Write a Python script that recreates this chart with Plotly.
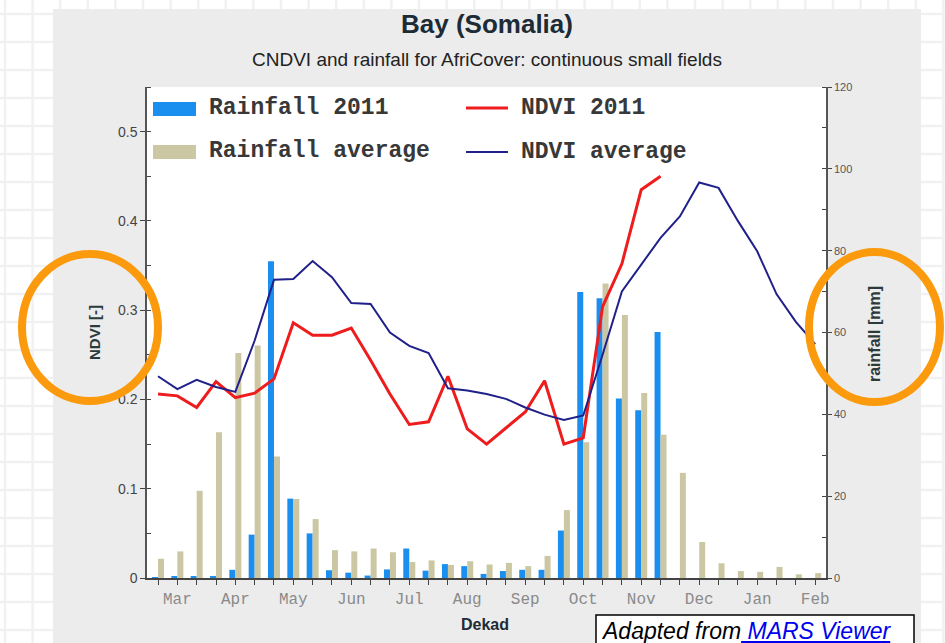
import plotly.graph_objects as go

# ---- data -------------------------------------------------------------
months = ["Mar", "Apr", "May", "Jun", "Jul", "Aug", "Sep", "Oct", "Nov",
          "Dec", "Jan", "Feb"]
# dekads shown on the axis: Mar 1 ... Feb 2
dekads = [f"{m} {d}" for m in months for d in (1, 2, 3)][:35]
month_ticks = [m if d == 2 else "" for m in months for d in (1, 2, 3)][:35]

rain_2011 = [0.2, 0.3, 0.3, 0.5, 2.0, 10.6, 77.4, 19.4, 10.9, 1.9, 1.3, 0.6,
             2.1, 7.2, 1.8, 3.4, 2.9, 1.0, 1.7, 2.0, 2.0, 11.6, 69.9, 68.4,
             43.9, 41.0, 60.1, None, None, None, None, None, None, None, None]
rain_avg = [4.7, 6.5, 21.3, 35.6, 55.0, 56.8, 29.7, 19.3, 14.4, 6.8, 6.5, 7.2,
            6.3, 3.9, 4.3, 3.2, 4.1, 3.3, 3.7, 2.9, 5.4, 16.6, 33.2, 72.0,
            64.3, 45.2, 35.0, 25.7, 8.8, 3.6, 1.7, 1.5, 2.7, 0.9, 1.2]
ndvi_2011 = [0.206, 0.204, 0.191, 0.220, 0.202, 0.207, 0.223, 0.286, 0.272,
             0.272, 0.280, 0.244, 0.206, 0.172, 0.175, 0.226, 0.167, 0.150,
             0.168, 0.186, 0.221, 0.150, 0.157, 0.304, 0.352, 0.435, 0.450,
             None, None, None, None, None, None, None, None]
ndvi_avg = [0.226, 0.2115, 0.222, 0.214, 0.2085, 0.266, 0.334, 0.335, 0.355,
            0.337, 0.308, 0.307, 0.275, 0.260, 0.252, 0.2125, 0.210, 0.206,
            0.2007, 0.191, 0.183, 0.177, 0.182, 0.250, 0.321, 0.351, 0.381,
            0.405, 0.443, 0.437, 0.400, 0.366, 0.318, 0.287, 0.262]

BLUE = "#1b8ff0"
TAN = "#cbc7a3"
RED = "#ee1c1c"
NAVY = "#20208a"
ORANGE = "#fb9a0c"

# ---- page geometry (pixels) ------------------------------------------
W, H = 945, 643
L, R, T, B = 147, 826, 87, 578


def fx(px):
    return (px - L) / (R - L)


def fy(py):
    return (B - py) / (B - T)


fig = go.Figure()
fig.add_trace(go.Bar(x=dekads, y=rain_2011, name="Rainfall 2011",
                     marker=dict(color=BLUE, line=dict(width=0)),
                     yaxis="y", showlegend=False))
fig.add_trace(go.Bar(x=dekads, y=rain_avg, name="Rainfall average",
                     marker=dict(color=TAN, line=dict(width=0)),
                     yaxis="y", showlegend=False))
fig.add_trace(go.Scatter(x=dekads, y=ndvi_2011, name="NDVI 2011",
                         mode="lines", line=dict(color=RED, width=3),
                         yaxis="y2", showlegend=False))
fig.add_trace(go.Scatter(x=dekads, y=ndvi_avg, name="NDVI average",
                         mode="lines", line=dict(color=NAVY, width=2),
                         yaxis="y2", showlegend=False))

shapes = []
# faint squared paper behind the chart panel
for k in range(36):
    gx = 5 + 27.6 * k
    shapes.append(dict(type="line", xref="paper", yref="paper", layer="below",
                       x0=fx(gx), x1=fx(gx), y0=fy(H + 5), y1=fy(-5),
                       line=dict(color="#f1f1f1", width=2.5)))
for k in range(24):
    gy = 14 + 28 * k
    shapes.append(dict(type="line", xref="paper", yref="paper", layer="below",
                       x0=fx(-5), x1=fx(W + 5), y0=fy(gy), y1=fy(gy),
                       line=dict(color="#f1f1f1", width=2.5)))
# grey chart panel and white plotting area
shapes.append(dict(type="rect", xref="paper", yref="paper", layer="below",
                   x0=fx(53), x1=fx(921), y0=fy(H + 10), y1=fy(9),
                   fillcolor="#ececec", line=dict(width=0)))
shapes.append(dict(type="rect", xref="paper", yref="paper", layer="below",
                   x0=0, x1=1, y0=0, y1=1,
                   fillcolor="white", line=dict(width=0)))

# legend keys
shapes.append(dict(type="rect", xref="paper", yref="paper",
                   x0=fx(153), x1=fx(196), y0=fy(116), y1=fy(102),
                   fillcolor=BLUE, line=dict(width=0)))
shapes.append(dict(type="rect", xref="paper", yref="paper",
                   x0=fx(153), x1=fx(196), y0=fy(159), y1=fy(145),
                   fillcolor=TAN, line=dict(width=0)))
shapes.append(dict(type="line", xref="paper", yref="paper",
                   x0=fx(466), x1=fx(508), y0=fy(108), y1=fy(108),
                   line=dict(color=RED, width=3)))
shapes.append(dict(type="line", xref="paper", yref="paper",
                   x0=fx(466), x1=fx(508), y0=fy(152), y1=fy(152),
                   line=dict(color=NAVY, width=2)))

# highlighted axis titles
shapes.append(dict(type="circle", xref="paper", yref="paper",
                   x0=fx(22), x1=fx(158), y0=fy(401), y1=fy(254),
                   line=dict(color=ORANGE, width=8)))
shapes.append(dict(type="circle", xref="paper", yref="paper",
                   x0=fx(809), x1=fx(940), y0=fy(402), y1=fy(252),
                   line=dict(color=ORANGE, width=8)))

# source box
shapes.append(dict(type="rect", xref="paper", yref="paper",
                   x0=fx(596), x1=fx(914), y0=fy(H + 10), y1=fy(615),
                   fillcolor="white", line=dict(color="black", width=1.5)))

LEG_FONT = dict(family="Liberation Mono, Courier New, monospace", size=23,
                color="#383838")
annotations = [
    dict(text="<b>Bay (Somalia)</b>", x=fx(487), y=fy(24),
         font=dict(family="Liberation Sans, Arial", size=26, color="#1c2b36")),
    dict(text="CNDVI and rainfall for AfriCover: continuous small fields",
         x=fx(487), y=fy(60),
         font=dict(family="Liberation Sans, Arial", size=19, color="#222222")),
    dict(text="<b>NDVI [-]</b>", x=fx(94), y=fy(333), textangle=-90,
         font=dict(family="Liberation Sans, Arial", size=15, color="#2b3a3a")),
    dict(text="<b>rainfall [mm]</b>", x=fx(874), y=fy(334), textangle=-90,
         font=dict(family="Liberation Sans, Arial", size=16, color="#2b3a3a")),
    dict(text="<b>Dekad</b>", x=fx(485), y=fy(624),
         font=dict(family="Liberation Sans, Arial", size=16, color="#1c2b36")),
    dict(text="<b>Rainfall 2011</b>", x=fx(207), y=fy(108), xanchor="left",
         font=LEG_FONT),
    dict(text="<b>Rainfall average</b>", x=fx(207), y=fy(151), xanchor="left",
         font=LEG_FONT),
    dict(text="<b>NDVI 2011</b>", x=fx(519), y=fy(108), xanchor="left",
         font=LEG_FONT),
    dict(text="<b>NDVI average</b>", x=fx(519), y=fy(152), xanchor="left",
         font=LEG_FONT),
    dict(text="<i>Adapted from<span style='color:#0000ee'><u> MARS Viewer</u></span></i>",
         x=fx(599), y=fy(631), xanchor="left",
         font=dict(family="Liberation Sans, Arial", size=23, color="black")),
]
for a in annotations:
    a.setdefault("xref", "paper")
    a.setdefault("yref", "paper")
    a.setdefault("showarrow", False)
    a.setdefault("yanchor", "middle")
    a.setdefault("xanchor", "center")

fig.update_layout(
    width=W, height=H,
    margin=dict(l=L, r=W - R, t=T, b=H - B, pad=0),
    paper_bgcolor="white",
    plot_bgcolor="rgba(0,0,0,0)",
    barmode="group", bargap=0.38, bargroupgap=0,
    showlegend=False,
    shapes=shapes,
    annotations=annotations,
    xaxis=dict(
        type="category", range=[-0.57, 34.56],
        tickmode="array", tickvals=dekads, ticktext=month_ticks,
        ticks="outside", ticklen=5, tickcolor="#444444", tickwidth=1,
        showline=True, linecolor="#444444", linewidth=1.5,
        showgrid=False, zeroline=False,
        tickfont=dict(family="Liberation Mono, Courier New, monospace",
                      size=16, color="#8a8a8a"),
    ),
    yaxis=dict(
        side="right", range=[0, 120], anchor="x",
        tickvals=[0, 20, 40, 60, 80, 100, 120],
        ticks="outside", ticklen=4, tickcolor="#444444",
        minor=dict(dtick=10, ticks="inside", ticklen=4, tickcolor="#444444"),
        showline=True, linecolor="#555555", linewidth=1.5,
        showgrid=False, zeroline=False,
        tickfont=dict(family="Liberation Sans, Arial", size=11, color="#555555"),
    ),
    yaxis2=dict(
        side="left", overlaying="y", anchor="x", range=[0, 0.55],
        tickvals=[0, 0.1, 0.2, 0.3, 0.4, 0.5],
        ticktext=["0", "0.1", "0.2", "0.3", "0.4", "0.5"],
        ticks="outside", ticklen=5, tickcolor="#444444",
        minor=dict(dtick=0.05, ticks="inside", ticklen=4, tickcolor="#444444"),
        showline=True, linecolor="#555555", linewidth=1.5,
        showgrid=False, zeroline=False,
        tickfont=dict(family="Liberation Sans, Arial", size=14, color="#444444"),
    ),
)

fig.write_html("out.html")
